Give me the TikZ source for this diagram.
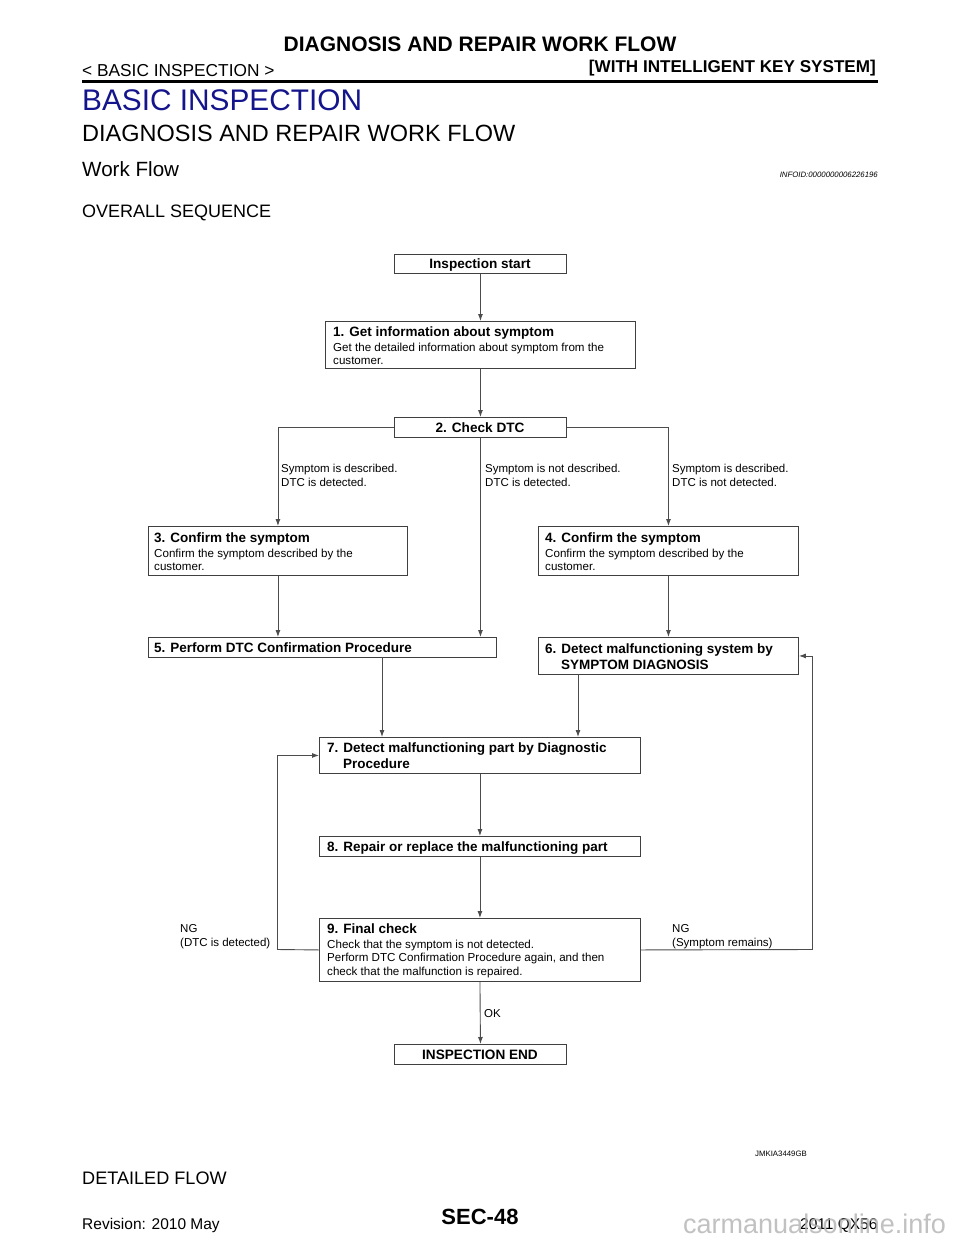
\documentclass[tikz,border=0pt]{standalone}
\usepackage{fontspec}
\setmainfont{Liberation Sans}
\usetikzlibrary{arrows.meta,calc,shadows}
\begin{document}
\begin{tikzpicture}[x=1pt,y=-1pt,
  box/.style={draw=black!75,line width=0.9pt,fill=white,anchor=north west,inner sep=0pt,
    drop shadow={shadow xshift=1pt,shadow yshift=-1pt,fill=black!55,opacity=1}},
  arr/.style={draw=black!70,line width=0.9pt,-{Latex[length=7pt,width=5pt]}},
  ln/.style={draw=black!70,line width=0.9pt},
  tt/.style={anchor=base west,inner sep=0pt,font=\bfseries\fontsize{13.5}{15}\selectfont},
  ts/.style={anchor=base west,inner sep=0pt,font=\fontsize{11.6}{13}\selectfont},
  tc/.style={anchor=base,inner sep=0pt,font=\bfseries\fontsize{13.6}{15}\selectfont},
  lb/.style={anchor=base west,inner sep=0pt,font=\fontsize{11.5}{13}\selectfont,align=left}]
\useasboundingbox (0,0) rectangle (960,1242);
\fill[white] (0,0) rectangle (960,1242);
% header
\node[anchor=base,inner sep=0pt,font=\bfseries\fontsize{21}{24}\selectfont] (h1) at (480,51) {DIAGNOSIS AND REPAIR WORK FLOW};
\node[anchor=base west,inner sep=0pt,font=\fontsize{17.3}{19}\selectfont] (h2) at (82,76) {< BASIC INSPECTION >};
\node[anchor=base east,inner sep=0pt,font=\bfseries\fontsize{17.1}{19}\selectfont] (h3) at (876,72) {[WITH INTELLIGENT KEY SYSTEM]};
\draw[line width=2.6pt] (82,81.5) -- (878,81.5);
\definecolor{navy}{RGB}{20,20,140}
\node[anchor=base west,inner sep=0pt,font=\fontsize{29.8}{34}\selectfont,text=navy] (h4) at (82,110) {BASIC INSPECTION};
\node[anchor=base west,inner sep=0pt,font=\fontsize{23.5}{26}\selectfont] (h5) at (82,141) {DIAGNOSIS AND REPAIR WORK FLOW};
\node[anchor=base west,inner sep=0pt,font=\fontsize{20.6}{23}\selectfont] (h6) at (82,176) {Work Flow};
\node[anchor=base east,inner sep=0pt,font=\itshape\fontsize{7.8}{9}\selectfont] (h7) at (878,177) {INFOID:0000000006226196};
\node[anchor=base west,inner sep=0pt,font=\fontsize{18}{20}\selectfont] (h8) at (82,217) {OVERALL SEQUENCE};
% boxes
\node[box,minimum width=172,minimum height=19] (st) at (394,254) {};
\node[box,minimum width=310,minimum height=47] (b1) at (325,321) {};
\node[box,minimum width=172,minimum height=20] (b2) at (394,417) {};
\node[box,minimum width=259,minimum height=49] (b3) at (148,526) {};
\node[box,minimum width=260,minimum height=49] (b4) at (538,526) {};
\node[box,minimum width=348,minimum height=20] (b5) at (148,637) {};
\node[box,minimum width=260,minimum height=37] (b6) at (538,637) {};
\node[box,minimum width=321,minimum height=36] (b7) at (319,737) {};
\node[box,minimum width=321,minimum height=20] (b8) at (319,836) {};
\node[box,minimum width=321,minimum height=63] (b9) at (319,918) {};
\node[box,minimum width=172,minimum height=20] (en) at (394,1044) {};
% box texts
\node[tc] (tst) at (480,268.5) {Inspection start};
\node[tt] (t1a) at (333,336) {1. Get information about symptom};
\node[ts] (t1b) at (333,351) {Get the detailed information about symptom from the};
\node[ts] (t1c) at (333,364.5) {customer.};
\node[tc] (t2) at (480,432) {2. Check DTC};
\node[tt] (t3a) at (154,542) {3. Confirm the symptom};
\node[ts] (t3b) at (154,557) {Confirm the symptom described by the};
\node[ts] (t3c) at (154,570.5) {customer.};
\node[tt] (t4a) at (545,542) {4. Confirm the symptom};
\node[ts] (t4b) at (545,557) {Confirm the symptom described by the};
\node[ts] (t4c) at (545,570.5) {customer.};
\node[tt] (t5) at (154,652) {5. Perform DTC Confirmation Procedure};
\node[tt] (t6a) at (545,653) {6. Detect malfunctioning system by};
\node[tt] (t6b) at (561,669) {SYMPTOM DIAGNOSIS};
\node[tt] (t7a) at (327,752) {7. Detect malfunctioning part by Diagnostic};
\node[tt] (t7b) at (343,768.5) {Procedure};
\node[tt] (t8) at (327,851) {8. Repair or replace the malfunctioning part};
\node[tt] (t9a) at (327,933.5) {9. Final check};
\node[ts] (t9b) at (327,948) {Check that the symptom is not detected.};
\node[ts] (t9c) at (327,961.5) {Perform DTC Confirmation Procedure again, and then};
\node[ts] (t9d) at (327,975) {check that the malfunction is repaired.};
\node[tc] (ten) at (480,1059) {INSPECTION END};
% branch labels
\node[lb] (l1a) at (281,472.5) {Symptom is described.};
\node[lb] (l1b) at (281,486.5) {DTC is detected.};
\node[lb] (l2a) at (485,472.5) {Symptom is not described.};
\node[lb] (l2b) at (485,486.5) {DTC is detected.};
\node[lb] (l3a) at (672,472.5) {Symptom is described.};
\node[lb] (l3b) at (672,486.5) {DTC is not detected.};
\node[lb] (ng1a) at (180,932.5) {NG};
\node[lb] (ng1b) at (180,946.5) {(DTC is detected)};
\node[lb] (ng2a) at (672,932.5) {NG};
\node[lb] (ng2b) at (672,946.5) {(Symptom remains)};
\node[lb] (ok) at (484,1017.5) {OK};
% connectors
\draw[arr] (st.south) -- (b1.north);
\draw[arr] (b1.south) -- (b2.north);
\draw[arr] (b2.west) -| (b3.north);
\draw[arr] (b2.east) -| (b4.north);
\draw[arr] (b2.south) -- (b2.south |- b5.north);
\draw[arr] (b3.south) -- (b3.south |- b5.north);
\draw[arr] (b4.south) -- (b6.north);
\coordinate (c5) at (382,657);
\coordinate (c6) at (578,674);
\draw[arr] (c5) -- (c5 |- b7.north);
\draw[arr] (c6) -- (c6 |- b7.north);
\draw[arr] (b7.south) -- (b8.north);
\draw[arr] (b8.south) -- (b9.north);
\draw[arr] (b9.south) -- (en.north);
\coordinate (cl) at (277,949.5);
\coordinate (cr) at (812,949.5);
\draw[ln] (b9.west) -- (cl);
\draw[arr] (cl) |- (b7.west);
\draw[ln] (b9.east) -- (cr);
\draw[arr] (cr) |- (b6.east);
% footer
\node[anchor=base east,inner sep=0pt,font=\fontsize{7.8}{9}\selectfont] (f1) at (807,1156) {JMKIA3449GB};
\node[anchor=base west,inner sep=0pt,font=\fontsize{18.1}{20}\selectfont] (f2) at (82,1184) {DETAILED FLOW};
\node[anchor=base west,inner sep=0pt,font=\fontsize{15.5}{18}\selectfont] (f3) at (82,1229) {Revision: 2010 May};
\node[anchor=base,inner sep=0pt,font=\bfseries\fontsize{22}{25}\selectfont] (f4) at (480,1224) {SEC-48};
\node[anchor=base west,inner sep=0pt,font=\fontsize{15.5}{18}\selectfont] (f5) at (800,1229) {2011 QX56};
\node[anchor=base west,inner sep=0pt,font=\fontsize{27}{30}\selectfont,text=black!30,opacity=0.8] (f6) at (683,1233) {carmanualsonline.info};
\end{tikzpicture}
\end{document}
